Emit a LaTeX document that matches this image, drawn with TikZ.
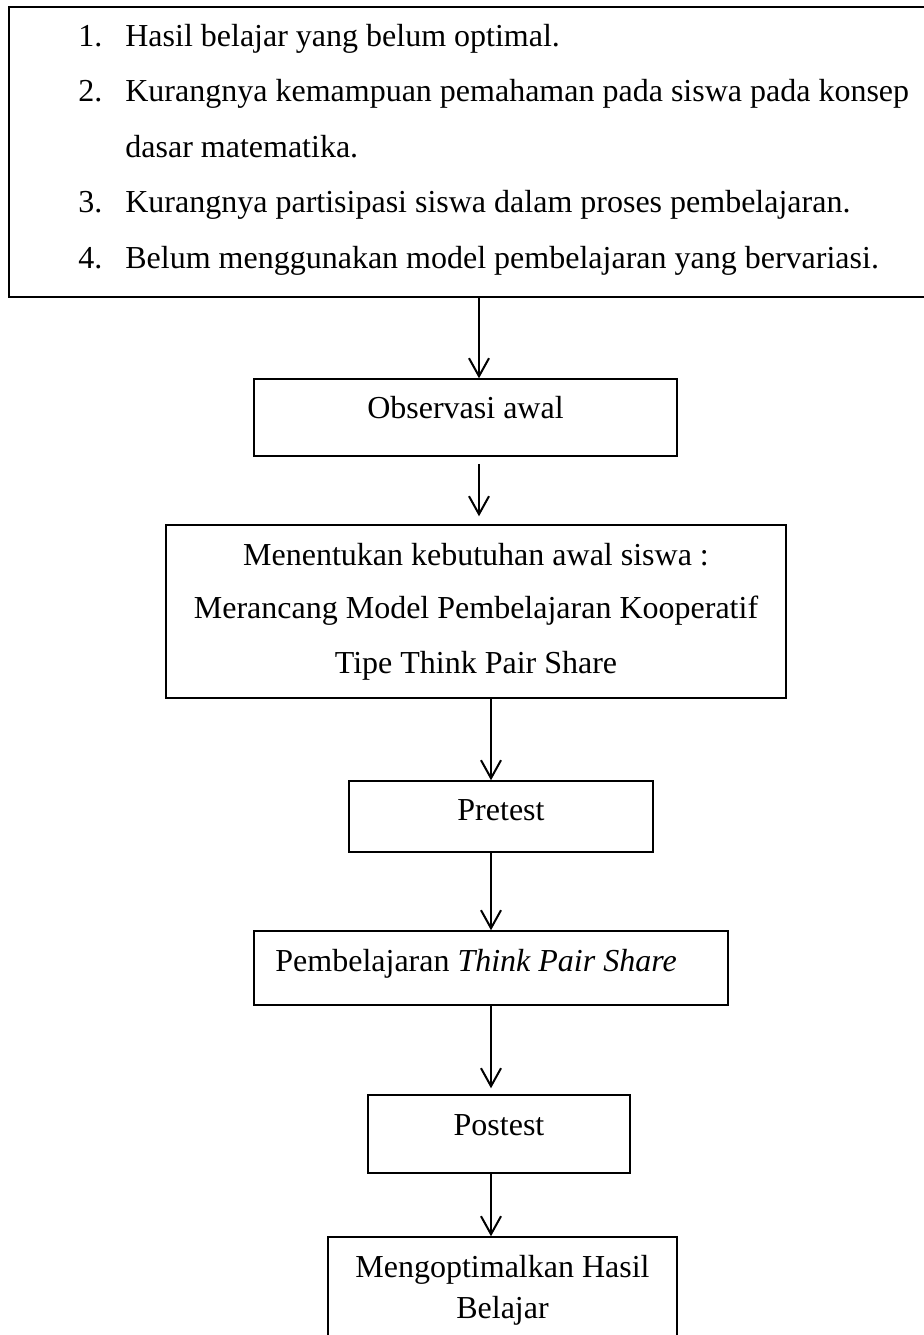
\documentclass[tikz,border=0pt]{standalone}
\usepackage{fontspec}
\setmainfont{Liberation Serif}
\usetikzlibrary{positioning, arrows.meta, calc}

\tikzset{
  box/.style={draw, line width=0.75pt, inner sep=0pt},
  txt/.style={inner sep=0pt, font=\fontsize{16}{20}\selectfont},
  arr/.style={-{Straight Barb[length=9pt,width=10pt]}, line width=1pt},
}

\begin{document}
\begin{tikzpicture}[x=0.5pt, y=-0.5pt]
    \useasboundingbox (0,0) rectangle (923,1335);

    % Columns of the arrows
    \coordinate (colA) at (479,0);
    \coordinate (colB) at (491,0);

    % Problems (top box, cut at the right)
    \node[box, minimum width=465.5pt, minimum height=145pt] (prob) at (474.5,152) {};
    \node[txt, anchor=base west] (p1) at (78,46) {\makebox[23.5pt][l]{1.}Hasil belajar yang belum optimal.};
    \node[txt, anchor=base west] (p2) at (78,101.5) {\makebox[23.5pt][l]{2.}Kurangnya kemampuan pemahaman pada siswa pada konsep};
    \node[txt, anchor=base west] (p2b) at (125,157) {dasar matematika.};
    \node[txt, anchor=base west] (p3) at (78,212.5) {\makebox[23.5pt][l]{3.}Kurangnya partisipasi siswa dalam proses pembelajaran.};
    \node[txt, anchor=base west] (p4) at (78,268) {\makebox[23.5pt][l]{4.}Belum menggunakan model pembelajaran yang bervariasi.};

    % Observasi awal
    \node[box, minimum width=211.5pt, minimum height=38.5pt] (obs) at (465.5,417.5) {};
    \node[txt, anchor=base] (obsT) at (465.5,418) {Observasi awal};

    % Kebutuhan awal siswa
    \node[box, minimum width=310pt, minimum height=86.5pt] (need) at (476,611.5) {};
    \node[txt, anchor=base] (need1) at (476,565) {Menentukan kebutuhan awal siswa :};
    \node[txt, anchor=base] (need2) at (476,618) {Merancang Model Pembelajaran Kooperatif};
    \node[txt, anchor=base] (need3) at (476,673) {Tipe Think Pair Share};

    % Pretest
    \node[box, minimum width=152pt, minimum height=35.5pt] (pre) at (501,816.5) {};
    \node[txt, anchor=base] (preT) at (501,820) {Pretest};

    % Pembelajaran TPS
    \node[box, minimum width=237pt, minimum height=37pt] (tps) at (491,968) {};
    \node[txt, anchor=base west] (tpsT) at (275,971) {Pembelajaran \textit{Think Pair Share}};

    % Postest
    \node[box, minimum width=131pt, minimum height=39pt] (post) at (499,1134) {};
    \node[txt, anchor=base] (postT) at (499,1135) {Postest};

    % Hasil (cut at the bottom)
    \node[box, minimum width=174.5pt, minimum height=61.5pt] (final) at (502.5,1298.5) {};
    \node[txt, anchor=base] (final1) at (502.5,1277) {Mengoptimalkan Hasil};
    \node[txt, anchor=base] (final2) at (502.5,1318) {Belajar};

    % Arrows
    \draw[arr] (prob.south -| colA) -- (obs.north -| colA);
    \draw[arr, shorten <=3.5pt, shorten >=4pt] (obs.south -| colA) -- (need.north -| colA);
    \draw[arr] (need.south -| colB) -- (pre.north -| colB);
    \draw[arr] (pre.south -| colB) -- (tps.north -| colB);
    \draw[arr, shorten >=3pt] (tps.south -| colB) -- (post.north -| colB);
    \draw[arr] (post.south -| colB) -- (final.north -| colB);
\end{tikzpicture}
\end{document}
